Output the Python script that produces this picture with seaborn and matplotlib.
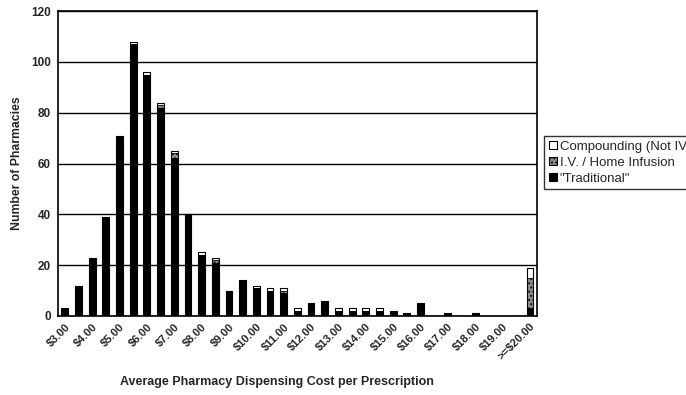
import numpy as np
import pandas as pd
import seaborn as sns
import matplotlib
matplotlib.use("Agg")
import matplotlib.pyplot as plt
from matplotlib.patches import Patch

# Cost bins ($0.50 steps) and pharmacy counts per pharmacy type
bins = [f"${v:.2f}" for v in np.arange(3.0, 20.0, 0.5)] + [">=$20.00"]
traditional = [3, 12, 23, 39, 71, 107, 95, 82, 62, 40, 24, 21, 10, 14, 11, 10,
               9, 2, 5, 6, 2, 2, 2, 2, 2, 1, 5, 0, 1, 0, 1, 0, 0, 0, 3]
iv_home_infusion = [0, 0, 0, 0, 0, 0, 0, 1, 2, 0, 0, 1, 0, 0, 0, 0,
                    1, 0, 0, 0, 0, 0, 0, 0, 0, 0, 0, 0, 0, 0, 0, 0, 0, 0, 12]
compounding = [0, 0, 0, 0, 0, 1, 1, 1, 1, 0, 1, 1, 0, 0, 1, 1,
               1, 1, 0, 0, 1, 1, 1, 1, 0, 0, 0, 0, 0, 0, 0, 0, 0, 0, 4]
tick_labels = [b for i, b in enumerate(bins) if i % 2 == 0]

df = pd.DataFrame({"bin": bins, "trad": traditional,
                   "iv": iv_home_infusion, "comp": compounding})
df["trad_iv"] = df["trad"] + df["iv"]
df["total"] = df["trad_iv"] + df["comp"]

sns.set_style("white")
plt.rcParams["font.family"] = ["Liberation Sans", "DejaVu Sans"]
plt.rcParams["hatch.linewidth"] = 0.8

fig = plt.figure(figsize=(6.86, 3.95), dpi=100)
ax = fig.add_axes([0.0845, 0.2, 0.698, 0.772])

bar_w = 0.5
# Stacked bars: draw cumulative totals from the top segment down
sns.barplot(data=df, x="bin", y="total", order=bins, color="white",
            edgecolor="black", linewidth=0.8, width=bar_w, ax=ax,
            saturation=1, zorder=3)
sns.barplot(data=df, x="bin", y="trad_iv", order=bins, color="#8a8a8a",
            edgecolor="black", linewidth=0.6, width=bar_w, ax=ax,
            saturation=1, hatch="....", zorder=3)
sns.barplot(data=df, x="bin", y="trad", order=bins, color="black",
            edgecolor="black", linewidth=0.6, width=bar_w, ax=ax,
            saturation=1, zorder=3)

ax.set_xlim(-0.5, len(bins) - 0.5)
ax.set_ylim(0, 120)
ax.set_yticks(range(0, 121, 20))
ax.yaxis.grid(True, color="black", linewidth=1.0, zorder=0)
ax.set_axisbelow(True)

ax.set_xticks(range(0, len(bins), 2))
ax.set_xticklabels(tick_labels, rotation=45, ha="right",
                   rotation_mode="anchor", fontsize=8, fontweight="bold")
ax.set_xticks(np.arange(-0.5, len(bins), 1.0), minor=True)
ax.tick_params(axis="x", which="major", length=0, pad=4)
ax.tick_params(axis="x", which="minor", length=3, width=0.8,
               color="black", direction="out")
ax.tick_params(axis="y", length=3, width=0.8, color="black",
               direction="out", labelsize=8.5, pad=2)
for t in ax.get_yticklabels():
    t.set_fontweight("bold")

for s in ax.spines.values():
    s.set_color("black")
    s.set_linewidth(1.2)

ax.set_xlabel("")
ax.set_ylabel("Number of Pharmacies", fontsize=8.8, fontweight="bold",
              labelpad=6)
fig.text(277 / 686, 1 - 382 / 395,
         "Average Pharmacy Dispensing Cost per Prescription",
         ha="center", va="center", fontsize=9, fontweight="bold")

handles = [
    Patch(facecolor="white", edgecolor="black", linewidth=0.8,
          label="Compounding (Not IV"),
    Patch(facecolor="#8a8a8a", edgecolor="black", linewidth=0.8,
          hatch="....", label="I.V. / Home Infusion"),
    Patch(facecolor="black", edgecolor="black", linewidth=0.8,
          label='"Traditional"'),
]
leg = fig.legend(handles=handles, loc="upper left",
                 bbox_to_anchor=(544 / 686, 1 - 136 / 395),
                 frameon=True, fancybox=False, fontsize=9.5,
                 handlelength=0.6, handleheight=0.6, handletextpad=0.25,
                 labelspacing=0.3, borderpad=0.35, borderaxespad=0)
leg.get_frame().set_edgecolor("black")
leg.get_frame().set_linewidth(1.0)

fig.savefig("out.png", dpi=100)
